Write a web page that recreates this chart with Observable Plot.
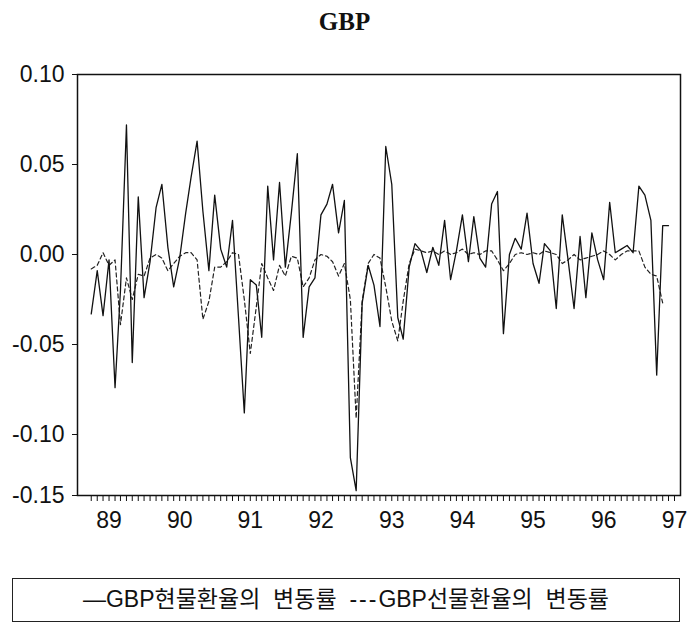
<!DOCTYPE html>
<html>
<head>
<meta charset="utf-8">
<script src="https://cdn.jsdelivr.net/npm/d3@7"></script>
<script src="https://cdn.jsdelivr.net/npm/@observablehq/plot@0.6"></script>
<style>
  body { margin: 0; background: #fff; }
  #wrap { position: relative; width: 689px; height: 626px; }
  #title { position: absolute; top: 8px; left: 0; width: 689px; text-align: center;
           font: bold 25px "Liberation Serif", "DejaVu Serif", serif; color: #111; }
  #plot { position: absolute; top: 45px; left: 0; }
  #legend { position: absolute; top: 578px; left: 12px; width: 668px; height: 44px;
            border: 1.5px solid #222; box-sizing: border-box; text-align: center;
            font: 23px "Liberation Sans", "Noto Sans CJK KR", sans-serif; line-height: 41px; color: #111;
            white-space: nowrap; }
  #legend .dash { letter-spacing: 2px; }
</style>
</head>
<body>
<div id="wrap">
  <div id="title">GBP</div>
  <div id="plot"></div>
  <div id="legend">—GBP현물환율의&nbsp;&nbsp;변동률&nbsp;&nbsp;<span class="dash">---</span>GBP선물환율의&nbsp;&nbsp;변동률</div>
</div>
<script>
// Monthly rate of change, October 1988 – December 1996
const startMonth = new Date(Date.UTC(1988, 9, 1));
const endMonth = new Date(Date.UTC(1997, 0, 1));

// GBP spot rate change (solid line)
const spot = [
  -0.033, -0.009, -0.034, -0.003, -0.074, -0.020, 0.072, -0.060, 0.032, -0.024,
  -0.004, 0.026, 0.039, 0.004, -0.018, -0.002, 0.023, 0.043, 0.063, 0.024,
  -0.009, 0.033, 0.003, -0.007, 0.019, -0.035, -0.088, -0.014, -0.017, -0.046,
  0.038, -0.003, 0.040, -0.007, 0.023, 0.056, -0.046, -0.018, -0.013, 0.022,
  0.028, 0.039, 0.012, 0.030, -0.119, -0.146, -0.027, -0.006, -0.017, -0.040,
  0.060, 0.039, -0.035, -0.047, -0.007, 0.006, 0.002, -0.010, 0.004, -0.006,
  0.019, -0.014, 0.002, 0.022, -0.004, 0.021, -0.002, -0.007, 0.028, 0.035,
  -0.044, 0.000, 0.009, 0.003, 0.023, -0.005, -0.016, 0.006, 0.002, -0.030,
  0.022, -0.003, -0.030, 0.010, -0.024, 0.012, -0.003, -0.014, 0.029, 0.001,
  0.003, 0.005, 0.001, 0.038, 0.033, 0.019, -0.067, 0.016, 0.016
];

// GBP forward rate change (dashed line)
const forward = [
  -0.008, -0.006, 0.001, -0.006, -0.003, -0.039, -0.013, -0.025, -0.011, -0.012,
  -0.002, 0.000, -0.002, -0.009, -0.005, -0.001, 0.001, 0.001, -0.003, -0.036,
  -0.026, -0.007, -0.007, -0.004, 0.001, 0.000, -0.025, -0.055, -0.029, -0.005,
  -0.013, -0.020, -0.006, -0.012, -0.001, -0.002, -0.018, -0.013, -0.003, 0.000,
  -0.001, -0.004, -0.012, -0.005, -0.025, -0.091, -0.026, -0.005, 0.000, -0.002,
  -0.018, -0.037, -0.048, -0.026, -0.005, 0.003, 0.002, 0.001, 0.002, 0.000,
  0.002, 0.000, 0.001, 0.003, 0.000, 0.001, 0.000, 0.002, 0.002, -0.003,
  -0.009, -0.005, 0.000, 0.001, 0.000, 0.001, 0.000, 0.002, 0.001, 0.000,
  -0.005, -0.003, 0.000, -0.003, -0.002, -0.001, 0.000, 0.002, 0.000, -0.003,
  0.000, 0.002, 0.002, 0.002, -0.007, -0.011, -0.012, -0.027
];

const yTicks = [-0.15, -0.10, -0.05, 0.00, 0.05, 0.10];
const yearLabels = ["89", "90", "91", "92", "93", "94", "95", "96", "97"];

// The axis below -0.10 is compressed: that band is drawn at 61/90 of the
// vertical spacing used above it.
const squeeze = 61 / 90;
const warp = v => (v >= -0.10 ? v : -0.10 + (v + 0.10) * squeeze);
const unwarp = w => (w >= -0.10 ? w : -0.10 + (w + 0.10) / squeeze);

const months = d3.utcMonth.range(startMonth, endMonth);
const rows = months.map((date, i) => ({
  date,
  spot: spot[i],
  forward: i < forward.length ? forward[i] : NaN
}));
const xTicks = months.concat([endMonth]);
const yearOf = d => String(d.getUTCFullYear()).slice(2);

const chart = Plot.plot({
  width: 689,
  height: 500,
  marginTop: 29,
  marginBottom: 50,
  marginLeft: 77,
  marginRight: 9,
  style: { fontFamily: "Liberation Sans, Arial, sans-serif", fontSize: "23px", color: "#111", background: "#fff" },
  x: {
    type: "utc",
    domain: [new Date(Date.UTC(1988, 6, 22)), new Date(Date.UTC(1997, 1, 1))],
    ticks: xTicks,
    tickSize: 6,
    tickPadding: 10,
    tickFormat: d => (d.getUTCMonth() === 0 && yearLabels.includes(yearOf(d))) ? yearOf(d) : "",
    label: null
  },
  y: {
    transform: warp,
    domain: [warp(-0.15), 0.10],
    ticks: yTicks.map(warp),
    tickSize: 5,
    tickPadding: 8,
    tickFormat: w => (Math.round(unwarp(w) * 100) / 100).toFixed(2),
    label: null
  },
  marks: [
    Plot.lineY(rows, { x: "date", y: "forward", stroke: "#222", strokeWidth: 1.2, strokeDasharray: "4,3" }),
    Plot.lineY(rows, { x: "date", y: "spot", stroke: "#111", strokeWidth: 1.3 }),
    Plot.frame({ stroke: "#111", strokeWidth: 1.5 })
  ]
});
document.getElementById("plot").appendChild(chart);
</script>
</body>
</html>
